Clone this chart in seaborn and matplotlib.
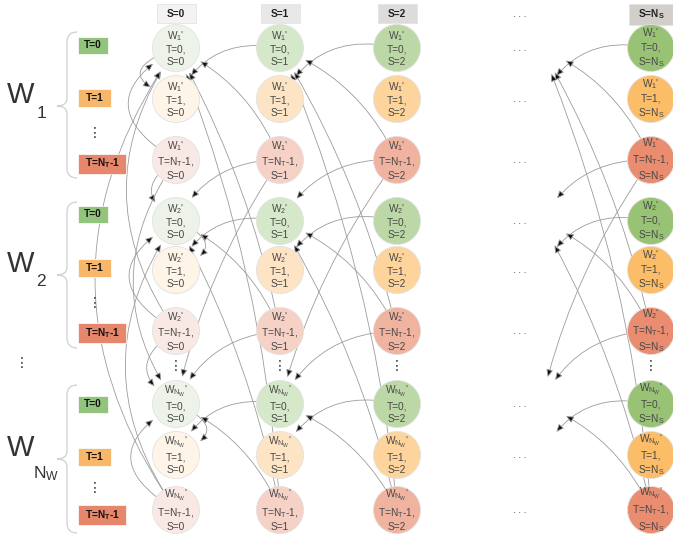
import matplotlib
matplotlib.use("Agg")
import matplotlib.pyplot as plt
import pandas as pd
import seaborn as sns
from matplotlib.patches import FancyArrowPatch, Rectangle, PathPatch
from matplotlib.path import Path

# ---------------------------
# Data
# ---------------------------
w_names = ["1", "2", "N_W"]          # worker blocks
t_names = ["0", "1", "N_T-1"]        # T rows inside a block
s_names = ["0", "1", "2", "N_S"]     # S columns

# ---------------------------
# Layout / style
# ---------------------------
col_x = [176, 280, 397, 651]         # S columns (pixels)
dots_x = 520                         # the "..." column between S=2 and S=Ns
dots_target_x = 541
row_y = [[48, 99, 160], [221, 270, 331], [404, 455, 510]]
box_y = [[45.5, 98, 163.5], [214, 268, 333], [404, 457, 515]]
box_w = [30, 33, 48]
box_h = [17, 18, 20]
brace_y = [(32, 178, 106), (202, 348, 275), (385, 533, 459)]

node_fill = [
    ["#edf3e8", "#d6e8ca", "#bcd8a6", "#99c374"],   # T=0
    ["#fef4e8", "#fde4c5", "#fdd49c", "#fbbd68"],   # T=1
    ["#f9e9e5", "#f5d1c6", "#efb3a0", "#e98c70"],   # T=Nt-1
]
box_fill = ["#93c47d", "#f8b86b", "#e6866b"]
head_fill = ["#f3f3f3", "#e8e8e8", "#dedcda", "#d2cfcb"]

sns.set_theme(style="white")
plt.rcParams["font.family"] = ["Liberation Sans", "DejaVu Sans"]
plt.rcParams["mathtext.fontset"] = "custom"
plt.rcParams["mathtext.rm"] = "Liberation Sans"
plt.rcParams["mathtext.it"] = "Liberation Sans:italic"
plt.rcParams["mathtext.bf"] = "Liberation Sans:bold"
plt.rcParams["mathtext.default"] = "regular"


def tex(name):
    # "N_T-1" -> "$N_T$-1", "0" -> "0"
    if name.startswith("N_"):
        head = name[:3]
        return "$" + head + "$" + name[3:]
    return name


def w_tex(name):
    return "$W_{" + name + "}$'"


# ---------------------------
# Node table
# ---------------------------
rows = []
for bi, w in enumerate(w_names):
    for ti, t in enumerate(t_names):
        for si, s in enumerate(s_names):
            rows.append(dict(x=col_x[si], y=row_y[bi][ti], key=f"{ti}-{si}",
                             label=f"{w_tex(w)}\nT={tex(t)},\nS={tex(s)}"))
nodes = pd.DataFrame(rows)
palette = {f"{ti}-{si}": node_fill[ti][si]
           for ti in range(len(t_names)) for si in range(len(s_names))}

fig = plt.figure(figsize=(6.73, 5.37), dpi=100)
ax = fig.add_axes([0, 0, 1, 1])

sns.scatterplot(data=nodes, x="x", y="y", hue="key", palette=palette,
                s=1150, legend=False, edgecolor="#e2e2e2", linewidth=0.6,
                ax=ax, zorder=3)

for _, r in nodes.iterrows():
    ax.text(r.x, r.y, r.label, ha="center", va="center", fontsize=7.3,
            color="#474747", linespacing=1.28, zorder=4)

# ---------------------------
# Arrows (transition edges)
# ---------------------------
all_x = [col_x[0], col_x[1], col_x[2], dots_target_x, col_x[3]]


def pos(b, t, c):
    return (all_x[c], row_y[b][t])


edges = []
for ci in [1, 2, 4]:
    pi = ci - 1
    for b in range(3):
        edges.append(((b, 0, ci), (b, 1, pi), 0.38))
        for b2 in range(3):
            if b2 == b:
                rad = 0.2
            elif b2 == b + 1:
                rad = 0.3
            elif b2 < b:
                rad = 0.08
            else:
                rad = 0.1
            edges.append(((b, 2, ci), (b2, 0, pi), rad))
for b in range(3):
    edges.append(((b, 0, 0), (b, 1, 0), 1.4 if b == 0 else -1.2))
    for b2 in range(3):
        if b2 == b:
            rad = -0.85
        elif b2 < b:
            rad = -0.35
        elif b2 == b + 1:
            rad = 0.8
        else:
            rad = 0.35
        edges.append(((b, 2, 0), (b2, 0, 0), rad))

for a, bnode, rad in edges:
    arr = FancyArrowPatch(pos(*a), pos(*bnode),
                          connectionstyle=f"arc3,rad={rad}",
                          arrowstyle="-|>,head_length=0.45,head_width=0.2",
                          mutation_scale=10, shrinkA=17, shrinkB=20,
                          lw=0.6, ec="#9c9c9c", fc="#111111", zorder=1)
    ax.add_patch(arr)

# ---------------------------
# Column headers and "..." column
# ---------------------------
for si, s in enumerate(s_names):
    w, h = (44, 21) if si == 3 else (39, 19)
    ax.add_patch(Rectangle((col_x[si] - w / 2, 4), w, h, fc=head_fill[si],
                           ec="#e4e4e4", lw=0.6, zorder=2))
    ax.text(col_x[si], 14, f"S={tex(s)}", ha="center", va="center",
            fontsize=7.3, fontweight="bold", color="#222222", zorder=4)

ax.text(dots_x, 14, ". . .", ha="center", va="center", fontsize=7, color="#333")
for bi in range(3):
    for ti in range(3):
        ax.text(dots_x, row_y[bi][ti], ". . .", ha="center", va="center",
                fontsize=7, color="#333")

for x in col_x:
    ax.text(x, 366, "⋮", ha="center", va="center", fontsize=10,
            family="DejaVu Sans", color="#333")

# ---------------------------
# Left side: W labels, braces, T boxes
# ---------------------------
for bi, w in enumerate(w_names):
    y0, y1, ym = brace_y[bi]
    xr, xm, xt = 77, 67, 57
    verts = [(xr, y0), (xm, y0), (xm, y0 + 10), (xm, ym - 8), (xm, ym), (xt, ym),
             (xm, ym), (xm, ym + 8), (xm, y1 - 10), (xm, y1), (xr, y1)]
    codes = [Path.MOVETO, Path.CURVE3, Path.CURVE3, Path.LINETO, Path.CURVE3,
             Path.CURVE3, Path.CURVE3, Path.CURVE3, Path.LINETO, Path.CURVE3,
             Path.CURVE3]
    ax.add_patch(PathPatch(Path(verts, codes), fc="none", ec="#d0d0d0", lw=0.9))

    ax.text(21, ym - 11, "W", ha="center", va="center", fontsize=21,
            color="#333333")
    if w.startswith("N_"):
        ax.text(46, ym + 15, "$N_W$", ha="center", va="center", fontsize=12.5,
                color="#333333")
    else:
        ax.text(41, ym + 7, w, ha="center", va="center", fontsize=12.5,
                color="#333333")

    for ti, t in enumerate(t_names):
        cx, cy = 93 + (box_w[ti] - 30) / 2, box_y[bi][ti]
        ax.add_patch(Rectangle((cx - box_w[ti] / 2, cy - box_h[ti] / 2),
                               box_w[ti], box_h[ti], fc=box_fill[ti],
                               ec="#ffffff", lw=0.5, zorder=2))
        ax.text(cx, cy, f"T={tex(t)}", ha="center", va="center", fontsize=7.3,
                fontweight="bold", color="#111111", zorder=4)
    ax.text(95, (box_y[bi][1] + box_y[bi][2]) / 2 + 2, "⋮", ha="center",
            va="center", fontsize=10, family="DejaVu Sans", color="#333")

ax.text(22, 363, "⋮", ha="center", va="center", fontsize=10,
        family="DejaVu Sans", color="#333")

ax.set_xlim(0, 673)
ax.set_ylim(537, 0)
ax.axis("off")

fig.savefig("out.png", dpi=100)
